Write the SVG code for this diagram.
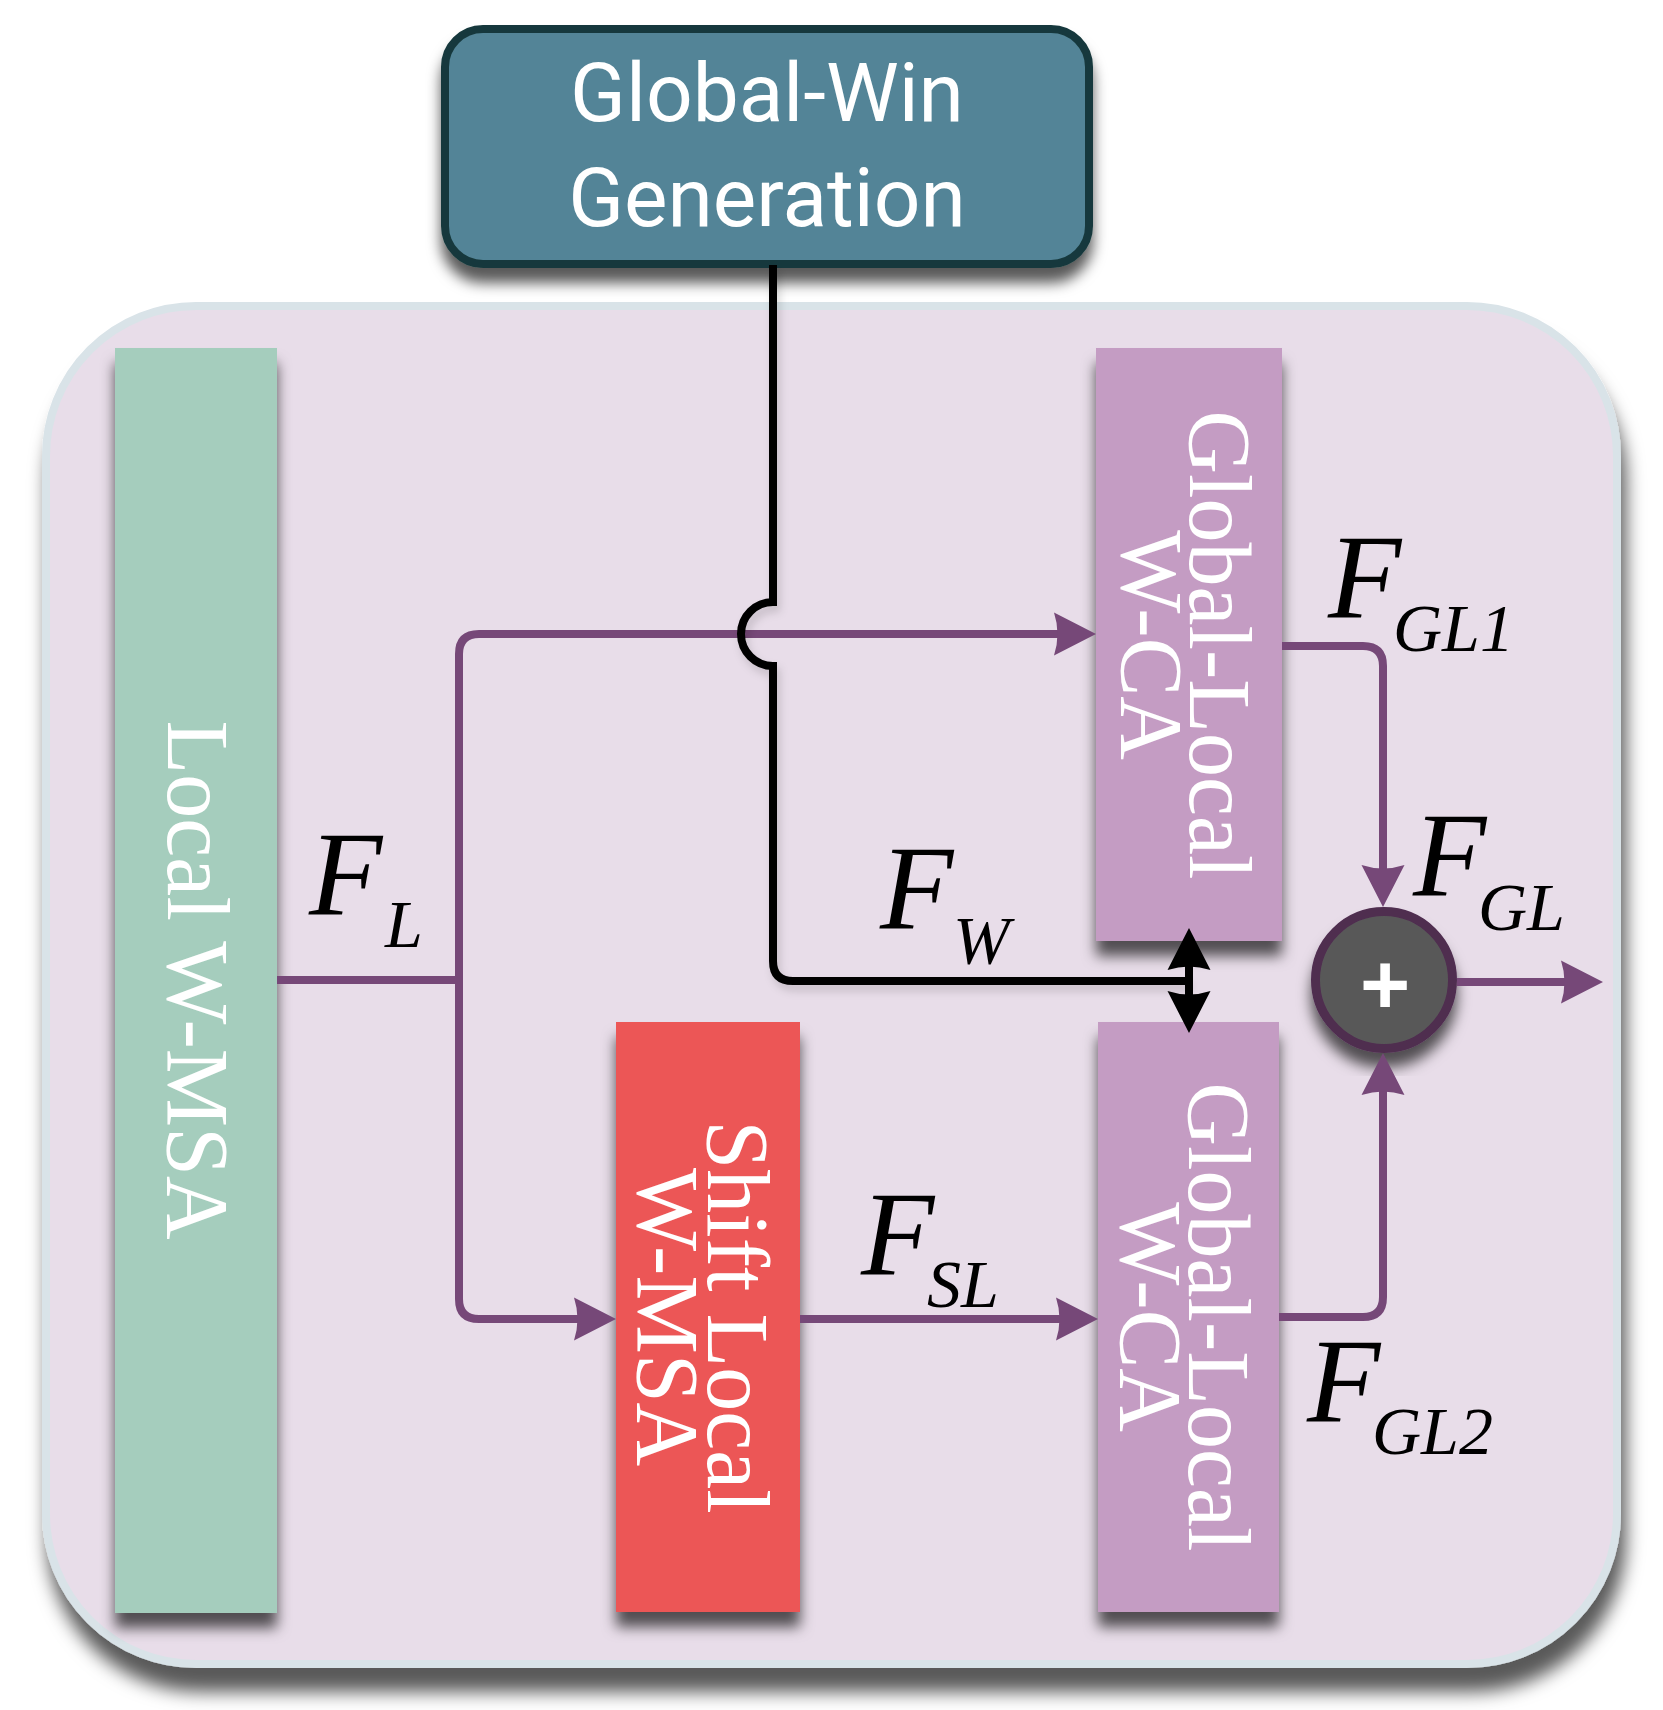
<svg xmlns="http://www.w3.org/2000/svg" width="1663" height="1710" viewBox="0 0 1663 1710">
<defs>
<style>
.blk{font-family:"Liberation Serif","Times New Roman",serif;font-size:88px;fill:#ffffff;text-anchor:middle}
.lbl{font-family:"Liberation Serif","Times New Roman",serif;font-style:italic;fill:#000000;font-size:120px}
.sub{font-size:68px}
.pl{fill:none;stroke:#764878;stroke-width:8}
.bl{fill:none;stroke:#000000;stroke-width:8}
</style>
<filter id="shC" x="-5%" y="-5%" width="112%" height="115%"><feDropShadow dx="5" dy="24" stdDeviation="9" flood-color="#000" flood-opacity="0.65"/></filter>
<filter id="shB" x="-30%" y="-10%" width="160%" height="130%"><feDropShadow dx="0" dy="15" stdDeviation="7" flood-color="#000" flood-opacity="0.65"/></filter>
<filter id="shL" x="-30%" y="-10%" width="160%" height="130%"><feDropShadow dx="3" dy="6" stdDeviation="4" flood-color="#000" flood-opacity="0.15"/></filter>
<marker id="ap" viewBox="-34 -23 46 46" refX="0" refY="0" markerWidth="46" markerHeight="46" markerUnits="userSpaceOnUse" orient="auto"><path d="M10,0 L-32,-21.5 Q-25,0 -32,21.5 Z" fill="#764878"/></marker>
<marker id="ab" viewBox="-34 -23 46 46" refX="0" refY="0" markerWidth="46" markerHeight="46" markerUnits="userSpaceOnUse" orient="auto-start-reverse"><path d="M10,0 L-32,-21.5 Q-25,0 -32,21.5 Z" fill="#000000"/></marker>
</defs>
<rect width="1663" height="1710" fill="#ffffff"/>
<g id="container">
<rect x="46" y="306" width="1571" height="1358" rx="150" ry="150" fill="#e8dde9" stroke="#d9e3e8" stroke-width="8" filter="url(#shC)"/>
</g>
<g id="global-win">
<rect x="445" y="29" width="644" height="235" rx="38" ry="38" fill="#538497" stroke="#17393c" stroke-width="8" filter="url(#shB)"/>
<text x="767" y="121" font-family="Roboto,'Liberation Sans',sans-serif" font-size="82" fill="#ffffff" text-anchor="middle">Global-Win</text>
<text x="767" y="226" font-family="Roboto,'Liberation Sans',sans-serif" font-size="82" fill="#ffffff" text-anchor="middle">Generation</text>
</g>
<g id="local-wmsa">
<rect x="115" y="348" width="162" height="1265" fill="#a5cdbd" filter="url(#shB)"/>
<text class="blk" transform="translate(168,980) rotate(90)">Local W-MSA</text>
</g>
<g id="shift-local">
<rect x="616" y="1022" width="184" height="590" fill="#ec5757" filter="url(#shB)"/>
<text class="blk" transform="translate(708,1317) rotate(90)"><tspan x="0" y="0">Shift Local</tspan><tspan x="0" dy="70">W-MSA</tspan></text>
</g>
<g id="gl-wca-1">
<rect x="1096" y="348" width="186" height="593" fill="#c49cc3" filter="url(#shB)"/>
<text class="blk" transform="translate(1190,645) rotate(90)"><tspan x="0" y="0">Global-Local</tspan><tspan x="0" dy="68">W-CA</tspan></text>
</g>
<g id="gl-wca-2">
<rect x="1098" y="1022" width="181" height="590" fill="#c49cc3" filter="url(#shB)"/>
<text class="blk" transform="translate(1189,1317) rotate(90)"><tspan x="0" y="0">Global-Local</tspan><tspan x="0" dy="68">W-CA</tspan></text>
</g>
<g id="sum">
<circle cx="1384" cy="980" r="68.5" fill="#595959" stroke="#4f2d50" stroke-width="9" filter="url(#shB)"/>
<text x="1385" y="1014" font-family="'Liberation Sans',Arial,sans-serif" font-weight="bold" font-size="86" fill="#ffffff" text-anchor="middle">+</text>
</g>
<g id="connectors">
<path class="pl" d="M277,980 H463"/>
<path class="pl" d="M459,980 V654 Q459,634 479,634 H1086" marker-end="url(#ap)"/>
<path class="pl" d="M459,980 V1299 Q459,1319 479,1319 H606" marker-end="url(#ap)"/>
<path class="pl" d="M800,1319 H1088" marker-end="url(#ap)"/>
<path class="pl" d="M1282,646 H1363 Q1383,646 1383,666 V897" marker-end="url(#ap)"/>
<path class="pl" d="M1279,1317 H1363 Q1383,1317 1383,1297 V1063" marker-end="url(#ap)"/>
<path class="pl" d="M1457,982 H1593" marker-end="url(#ap)"/>
<path class="bl" filter="url(#shL)" d="M773,265 V602 A32,32 0 0,0 773,666 V961 Q773,981 793,981 H1189"/>
<path class="bl" d="M1189,938 V1023" marker-start="url(#ab)" marker-end="url(#ab)"/>
</g>
<g id="labels">
<text class="lbl" x="309" y="915">F<tspan class="sub" x="385" y="947">L</tspan></text>
<text class="lbl" x="880" y="929">F<tspan class="sub" x="953" y="963">W</tspan></text>
<text class="lbl" x="1328" y="618">F<tspan class="sub" x="1393" y="651">GL1</tspan></text>
<text class="lbl" x="1413" y="896">F<tspan class="sub" x="1478" y="930">GL</tspan></text>
<text class="lbl" x="861" y="1275">F<tspan class="sub" x="927" y="1307">SL</tspan></text>
<text class="lbl" x="1307" y="1422">F<tspan class="sub" x="1372" y="1454">GL2</tspan></text>
</g>
</svg>
